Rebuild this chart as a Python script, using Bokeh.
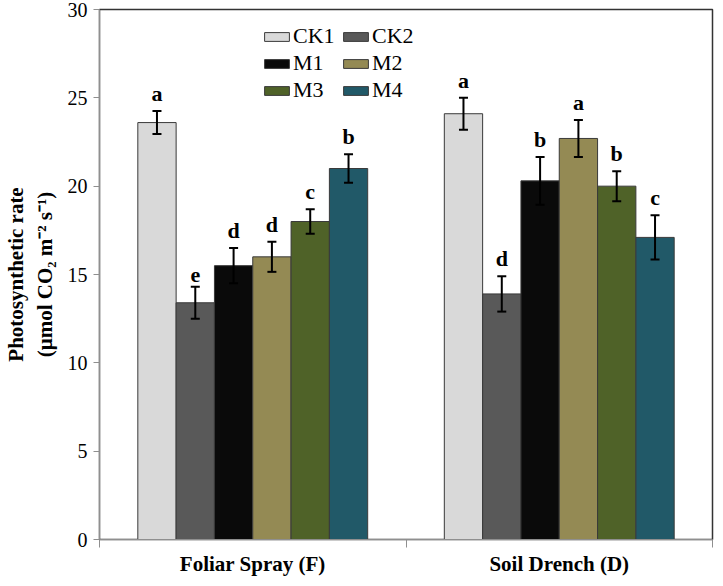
from bokeh.plotting import figure
from bokeh.models import (ColumnDataSource, Whisker, TeeHead, FixedTicker, Legend, LegendItem,
                          Range1d)
from bokeh.core.properties import value
from bokeh.embed import file_html
from bokeh.resources import INLINE

groups = ["Foliar Spray (F)", "Soil Drench (D)"]
treatments = ["CK1", "CK2", "M1", "M2", "M3", "M4"]
colors = ["#d9d9d9", "#595959", "#0a0a0a", "#948a54", "#4f6228", "#215968"]
foliar_vals = [23.6, 13.4, 15.5, 16.0, 18.0, 21.0]
foliar_errs = [0.65, 0.9, 1.0, 0.85, 0.7, 0.8]
foliar_letters = ["a", "e", "d", "d", "c", "b"]
soil_vals = [24.1, 13.9, 20.3, 22.7, 20.0, 17.1]
soil_errs = [0.9, 1.0, 1.35, 1.05, 0.85, 1.25]
soil_letters = ["a", "d", "b", "a", "b", "c"]
y_ticks = [0, 5, 10, 15, 20, 25, 30]

FONT = "Liberation Serif"
AXIS_GRAY = "#8f8f8f"
bar_w = 0.125

p = figure(width=715, height=578, output_backend="svg", toolbar_location=None,
           x_range=Range1d(0, 2), y_range=Range1d(0, 30),
           min_border_left=98, min_border_right=3, min_border_top=9, min_border_bottom=39)
p.outline_line_color = "#333333"
p.outline_line_width = 1.5
p.grid.visible = False
p.background_fill_color = "white"

vals_by_group = [foliar_vals, soil_vals]
errs_by_group = [foliar_errs, soil_errs]
letters_by_group = [foliar_letters, soil_letters]

renderers = {}
for j, t in enumerate(treatments):
    xs = [gi + 0.5 + (j - 2.5) * bar_w for gi in range(len(groups))]
    tops = [vals_by_group[gi][j] for gi in range(len(groups))]
    errs = [errs_by_group[gi][j] for gi in range(len(groups))]
    src = ColumnDataSource(dict(
        x=xs, top=tops,
        upper=[v + e for v, e in zip(tops, errs)],
        lower=[v - e for v, e in zip(tops, errs)],
        letter=[letters_by_group[gi][j] for gi in range(len(groups))],
    ))
    r = p.vbar(x="x", top="top", width=bar_w, source=src, fill_color=colors[j],
               line_color="#3a3a3a", line_width=1)
    renderers[t] = r
    w = Whisker(base="x", upper="upper", lower="lower", source=src,
                line_color="black", line_width=2, level="overlay",
                upper_head=TeeHead(size=9, line_color="black", line_width=2),
                lower_head=TeeHead(size=9, line_color="black", line_width=2))
    p.add_layout(w)
    p.text(x="x", y="upper", text="letter", source=src, text_font=value(FONT),
           text_font_style="bold", text_font_size="22px", text_align="center",
           text_baseline="bottom", y_offset=-5, text_color="black")

# legend (row-major: CK1 CK2 / M1 M2 / M3 M4)
items = [LegendItem(label=t, renderers=[renderers[t]]) for t in treatments]
legend = Legend(items=items, location=(162, 436), orientation="horizontal", ncols=2,
                glyph_width=31, glyph_height=11, label_standoff=1, spacing=1,
                padding=0, margin=0, border_line_color=None, background_fill_alpha=0,
                label_text_font=FONT, label_text_font_size="22px",
                label_text_color="black", label_height=22, label_width=46)
p.add_layout(legend)

# y axis
p.yaxis.ticker = FixedTicker(ticks=y_ticks)
p.yaxis.major_label_text_font = FONT
p.yaxis.major_label_text_font_size = "20px"
p.yaxis.major_label_text_color = "black"
p.yaxis.major_tick_in = 0
p.yaxis.major_tick_out = 6
p.yaxis.minor_tick_line_color = None
p.yaxis.axis_line_color = AXIS_GRAY
p.yaxis.major_tick_line_color = AXIS_GRAY
p.yaxis.major_label_standoff = 6
p.yaxis.axis_label = "Photosynthetic rate\n(\u03bcmol CO\u2082 m\u207b\u00b2 s\u207b\u00b9)"
p.yaxis.axis_label_text_font = FONT
p.yaxis.axis_label_text_font_style = "bold"
p.yaxis.axis_label_text_font_size = "21px"
p.yaxis.axis_label_text_color = "black"
p.yaxis.axis_label_standoff = 8

# x axis: category labels at centers, ticks at boundaries
p.xaxis.ticker = FixedTicker(ticks=[0.5, 1.5], minor_ticks=[0, 1, 2])
p.xaxis.major_label_overrides = {0.5: groups[0], 1.5: groups[1]}
p.xaxis.major_label_text_font = FONT
p.xaxis.major_label_text_font_style = "bold"
p.xaxis.major_label_text_font_size = "21px"
p.xaxis.major_label_text_color = "black"
p.xaxis.major_tick_in = 0
p.xaxis.major_tick_out = 0
p.xaxis.minor_tick_in = 0
p.xaxis.minor_tick_out = 8
p.xaxis.minor_tick_line_color = AXIS_GRAY
p.xaxis.axis_line_color = AXIS_GRAY
p.xaxis.major_label_standoff = 4

open("out.html", "w").write(file_html(p, INLINE))
